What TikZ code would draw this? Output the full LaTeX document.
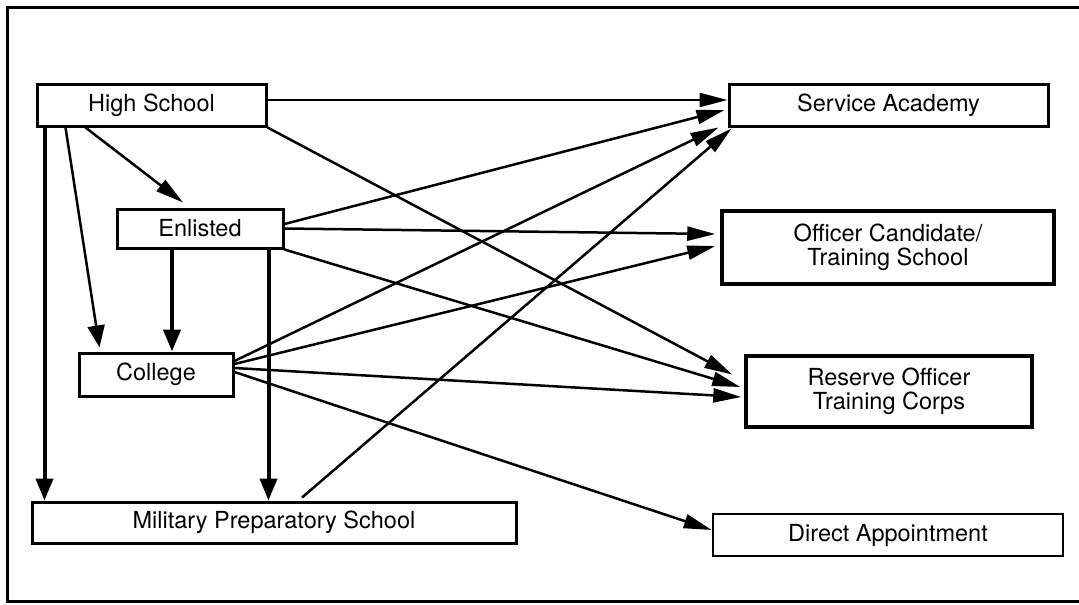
\documentclass[tikz,border=0pt]{standalone}
\usepackage{fontspec}
\setmainfont{TeX Gyre Heros}
\usetikzlibrary{arrows.meta}

\begin{document}
\begin{tikzpicture}[x=1pt,y=-1pt,
        box/.style={draw, line width=3pt, inner sep=0pt, align=center,
            font=\fontsize{23.5}{24.5}\selectfont},
        arr/.style={line width=2.5pt, -{Triangle[length=28pt,width=14pt]}},
        downarr/.style={line width=2.5pt, -{Triangle[length=22pt,width=17pt]}},
        thickarr/.style={line width=4pt, -{Triangle[length=22pt,width=17pt]}}]
                \useasboundingbox (0,0) rectangle (1079,605);
                \draw [line width=3pt] (1079,7) -- (7,7) -- (7,601) -- (1079,601);

                \node [box, minimum width=229pt, minimum height=42pt] (hs) at (151.5,105) {High School};
                \node [box, minimum width=166pt, minimum height=39pt] (enl) at (200,228.5) {Enlisted};
                \node [box, minimum width=154pt, minimum height=43pt] (col) at (156,374.5) {College};
                \node [box, minimum width=484pt, minimum height=41pt] (mps) at (274,522.5) {Military Preparatory School};
                \node [box, minimum width=319pt, minimum height=42pt] (sa) at (888.5,105) {Service Academy};
                \node [box, line width=3.5pt, minimum width=332pt, minimum height=73pt] (ocs) at (888,247.5) {Officer Candidate/\\Training School};
                \node [box, line width=3.5pt, minimum width=286pt, minimum height=71pt] (rotc) at (889,391.5) {Reserve Officer\\Training Corps};
                \node [box, line width=2.5pt, minimum width=350pt, minimum height=42pt] (da) at (888,535) {Direct Appointment};

                \coordinate (hsl) at ([xshift=9pt]hs.south west);
                \coordinate (enc) at ([xshift=-28pt]enl.south);
                \coordinate (enm) at ([xshift=-16pt]enl.south east);

                \draw [arr] ([yshift=5pt]hs.east) -- ([yshift=5pt]sa.west);
                \draw [arr] (hs.south east) -- ([xshift=-12pt,yshift=17pt]rotc.west);
                \draw [arr] ([xshift=50pt]hs.south west) -- ([xshift=-17pt,yshift=5pt]enl.north);
                \draw [downarr] ([xshift=30pt]hs.south west) -- ([xshift=22pt,yshift=4pt]col.north west);
                \draw [thickarr] (hsl) -- (hsl |- mps.north);

                \draw [arr] ([yshift=4.5pt]enl.east) -- ([xshift=-3pt,yshift=-5pt]sa.west);
                \draw [arr] (enl.east) -- ([xshift=-5pt,yshift=13.5pt]ocs.west);
                \draw [arr] (enl.south east) -- ([xshift=-4pt,yshift=4.5pt]rotc.west);
                \draw [thickarr] (enc) -- (enc |- col.north);
                \draw [thickarr] (enm) -- (enm |- mps.north);

                \draw [arr] ([yshift=13.5pt]col.east) -- ([xshift=-9pt]sa.south west);
                \draw [arr] ([yshift=10.5pt]col.east) -- ([xshift=-5pt,yshift=1.5pt]ocs.west);
                \draw [arr] ([yshift=6.5pt]col.east) -- ([xshift=-3pt,yshift=-5.5pt]rotc.west);
                \draw [arr] ([yshift=2.5pt]col.east) -- ([yshift=5pt]da.west);

                \draw [arr] ([xshift=28pt,yshift=3pt]mps.north) -- ([xshift=4pt,yshift=-1pt]sa.south west);
            \end{tikzpicture}
\end{document}
